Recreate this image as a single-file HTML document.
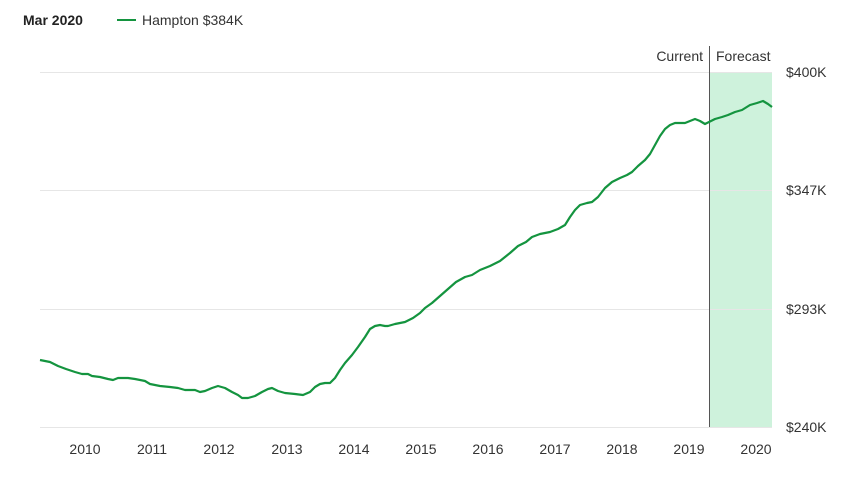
<!DOCTYPE html>
<html><head><meta charset="utf-8"><style>
body{margin:0;background:#fff;width:845px;height:474px;overflow:hidden;font-family:"Liberation Sans",sans-serif}
</style></head><body>
<svg width="845" height="474" xmlns="http://www.w3.org/2000/svg" font-family="Liberation Sans, sans-serif">
<text x="23" y="25" font-size="14" font-weight="bold" fill="#222">Mar 2020</text>
<line x1="117" y1="20" x2="136" y2="20" stroke="#14943f" stroke-width="2"/>
<text x="142" y="25" font-size="14" fill="#333">Hampton $384K</text>
<rect x="709" y="72" width="63" height="355" fill="#cef2dc"/>
<g stroke="#e6e6e6" stroke-width="1">
<line x1="40" y1="72.5" x2="772" y2="72.5"/>
<line x1="40" y1="190.5" x2="772" y2="190.5"/>
<line x1="40" y1="309.5" x2="772" y2="309.5"/>
<line x1="40" y1="427.5" x2="772" y2="427.5"/>
</g>
<line x1="709.5" y1="46" x2="709.5" y2="427" stroke="#555" stroke-width="1"/>
<text x="703" y="61" font-size="14" fill="#333" text-anchor="end">Current</text>
<text x="716" y="61" font-size="14" fill="#333">Forecast</text>
<g font-size="14" fill="#333">
<text x="786" y="77">$400K</text>
<text x="786" y="195">$347K</text>
<text x="786" y="314">$293K</text>
<text x="786" y="432">$240K</text>
</g>
<g font-size="14" fill="#333" text-anchor="middle">
<text x="85" y="454">2010</text><text x="152" y="454">2011</text><text x="219" y="454">2012</text>
<text x="287" y="454">2013</text><text x="354" y="454">2014</text><text x="421" y="454">2015</text>
<text x="488" y="454">2016</text><text x="555" y="454">2017</text><text x="622" y="454">2018</text>
<text x="689" y="454">2019</text><text x="756" y="454">2020</text>
</g>
<polyline fill="none" stroke="#14943f" stroke-width="2.2" stroke-linejoin="round" points="40,360 50,362 58,366 66,369 75,372 82,374 88,374 92,376 100,377 108,379 113,380 118,378 128,378 135,379 145,381 150,384 160,386 170,387 178,388 185,390 195,390 200,392 205,391 212,388 218,386 225,388 232,392 238,395 242,398 248,398 255,396 262,392 268,389 272,388 278,391 285,393 295,394 303,395 310,392 315,387 320,384 325,383 330,383 335,378 340,370 345,363 352,355 358,347 365,337 370,329 375,326 380,325 385,326 388,326 395,324 405,322 413,318 420,313 425,308 432,303 440,296 448,289 456,282 465,277 472,275 480,270 490,266 500,261 510,253 518,246 526,242 532,237 540,234 550,232 558,229 565,225 570,217 575,210 580,205 587,203 592,202 598,197 605,188 612,182 620,178 627,175 632,172 638,166 645,160 650,154 655,145 660,136 665,129 670,125 675,123 685,123 690,121 695,119 700,121 705,124 709,122 715,119 722,117 728,115 735,112 742,110 750,105 757,103 763,101 768,104 772,107"/>
</svg>
</body></html>
